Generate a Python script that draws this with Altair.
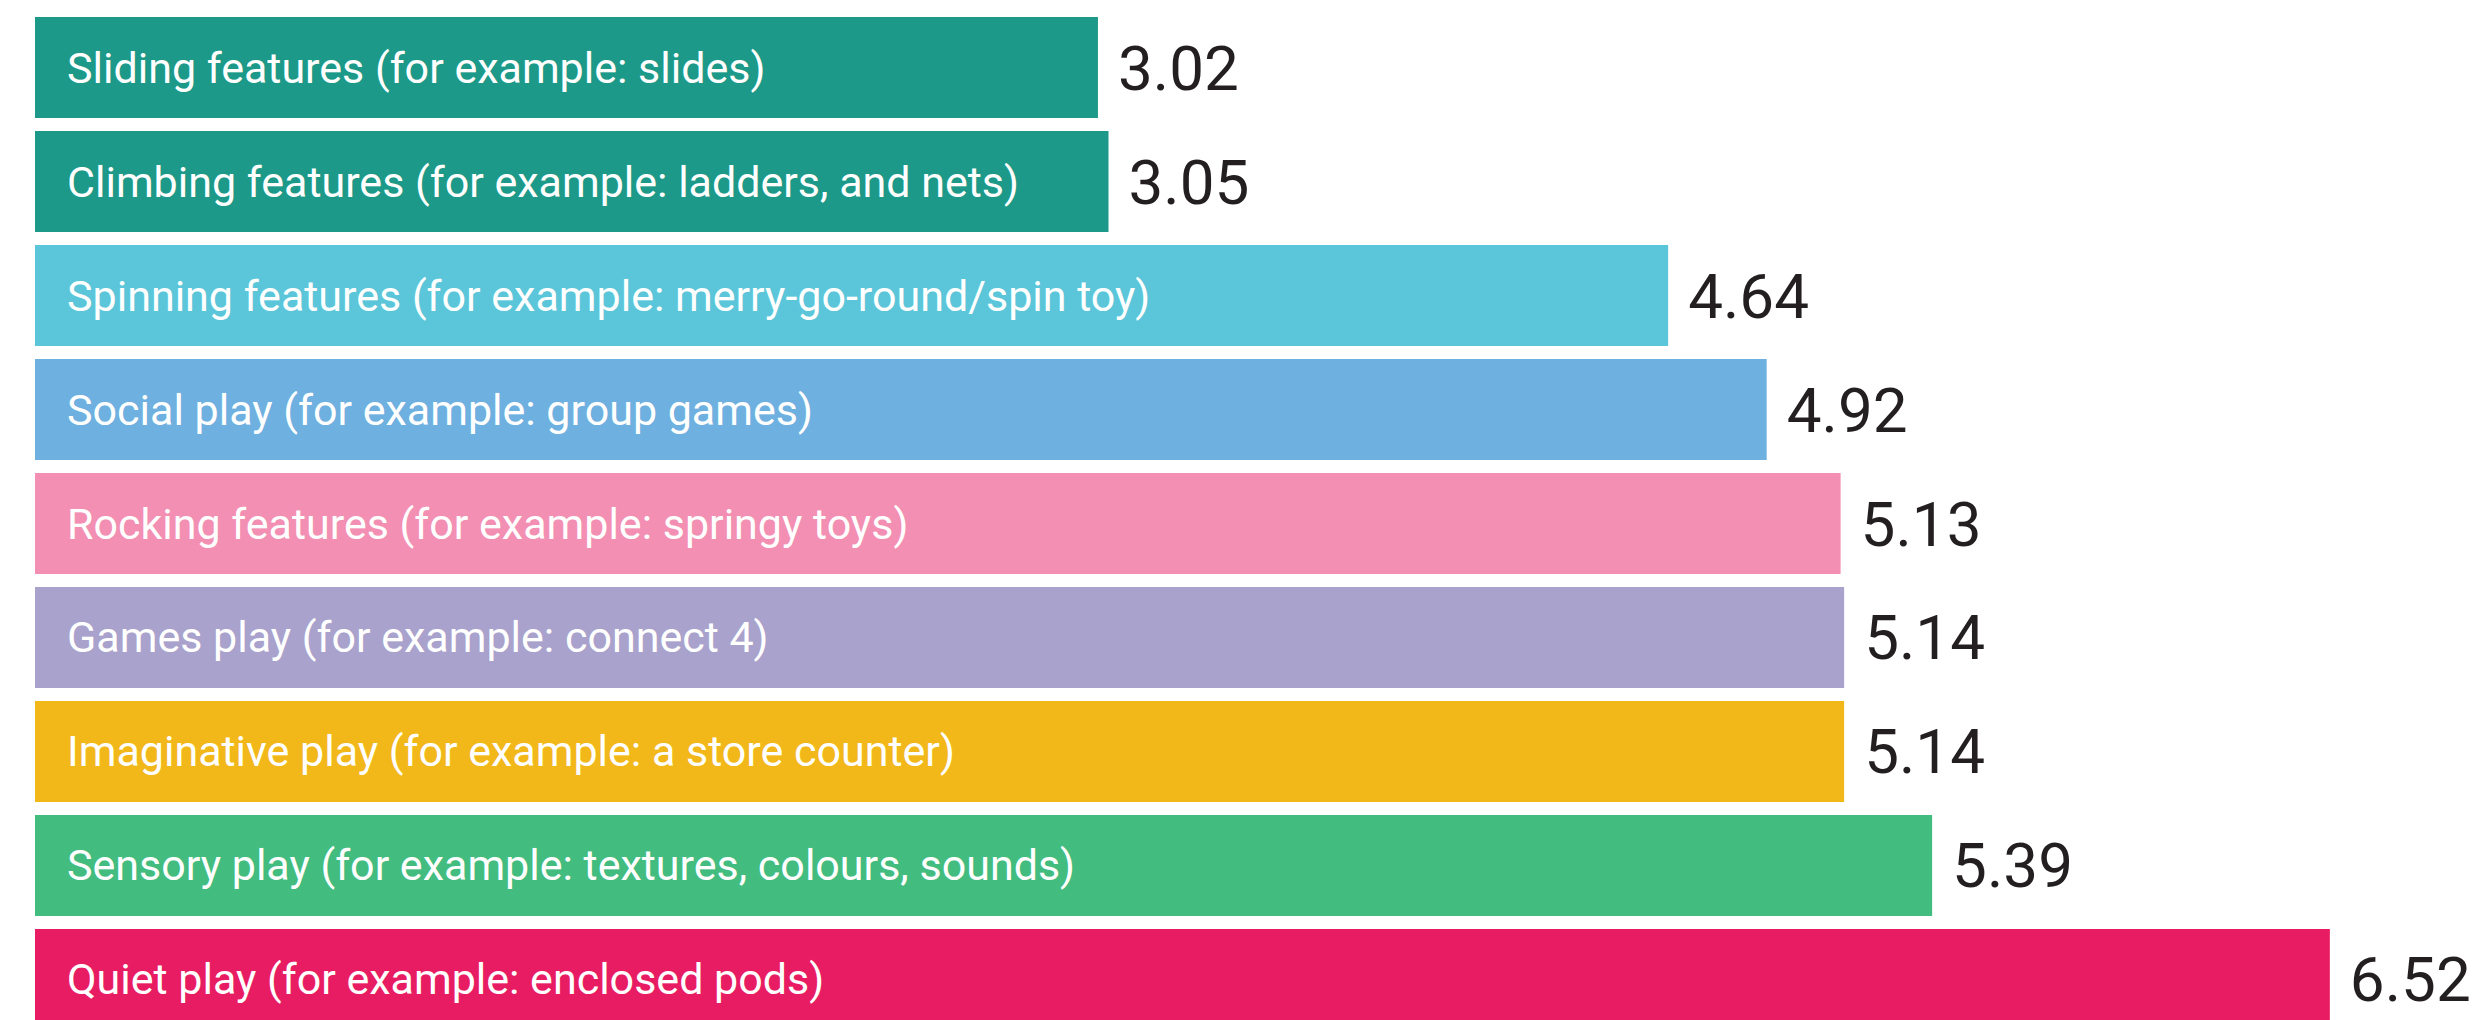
import altair as alt
import pandas as pd

categories = [
    "Sliding features (for example: slides)",
    "Climbing features (for example: ladders, and nets)",
    "Spinning features (for example: merry-go-round/spin toy)",
    "Social play (for example: group games)",
    "Rocking features (for example: springy toys)",
    "Games play (for example: connect 4)",
    "Imaginative play (for example: a store counter)",
    "Sensory play (for example: textures, colours, sounds)",
    "Quiet play (for example: enclosed pods)",
]
values = [3.02, 3.05, 4.64, 4.92, 5.13, 5.14, 5.14, 5.39, 6.52]
colors = ["#1C9988", "#1C9988", "#5BC6D9", "#6EB0DF", "#F28FB3",
          "#A9A2CC", "#F2B81A", "#42BC7F", "#E81C62"]

df = pd.DataFrame({
    "category": categories,
    "value": values,
    "label": [f"{v:.2f}" for v in values],
})

y = alt.Y("category:N", sort=categories, axis=None,
          scale=alt.Scale(range=[0, 1013], paddingInner=0.114, paddingOuter=0))
x = alt.X("value:Q", axis=None, scale=alt.Scale(domain=[0, 6.85], nice=False, zero=True))

bars = alt.Chart(df).mark_bar().encode(
    x=x, y=y,
    color=alt.Color("category:N", scale=alt.Scale(domain=categories, range=colors), legend=None),
)

names = alt.Chart(df).mark_text(
    align="left", baseline="middle", dx=32, dy=2, font="Roboto", fontSize=43, color="white"
).encode(x=alt.datum(0), y=y, text="category:N")

nums = alt.Chart(df).mark_text(
    align="left", baseline="middle", dx=20, dy=3, font="Roboto",
    fontSize=62, color="#231F20"
).encode(x="value:Q", y=y, text="label:N")

chart = alt.layer(bars, names, nums).properties(
    width=2411, height=1013,
    padding={"left": 27, "top": 9, "right": 30, "bottom": 0},
    autosize="none",
).configure_view(stroke=None)

chart.save("out.html", embed_options={"renderer": "svg", "actions": False})
